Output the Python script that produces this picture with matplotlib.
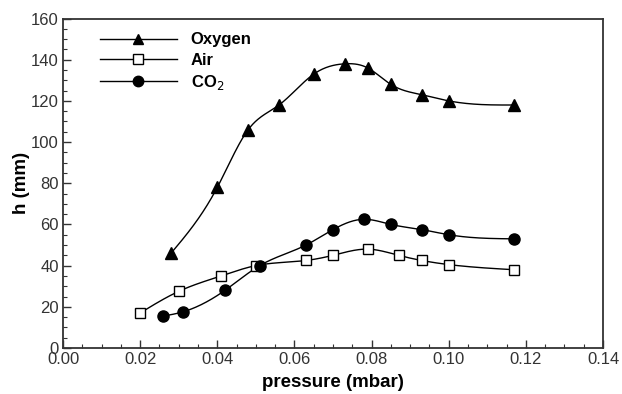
"""
h vs pressure for three gases (Oxygen, Air, CO2)
"""

import matplotlib
matplotlib.use("Agg")
import matplotlib.pyplot as plt
from matplotlib.ticker import MultipleLocator, FormatStrFormatter
import numpy as np

plt.rcParams['font.family'] = ['Liberation Sans', 'DejaVu Sans']

# data
p_oxygen = [0.028, 0.040, 0.048, 0.056, 0.065, 0.073, 0.079, 0.085, 0.093, 0.100, 0.117]
h_oxygen = [46, 78, 106, 118, 133, 138, 136, 128, 123, 120, 118]

p_air = [0.020, 0.030, 0.041, 0.050, 0.063, 0.070, 0.079, 0.087, 0.093, 0.100, 0.117]
h_air = [17, 27.5, 35, 40, 42.5, 45, 48, 45, 42.5, 40.5, 38]

p_co2 = [0.026, 0.031, 0.042, 0.051, 0.063, 0.070, 0.078, 0.085, 0.093, 0.100, 0.117]
h_co2 = [15.5, 17.5, 28, 40, 50, 57.5, 62.5, 60, 57.5, 55, 53]


def natural_spline(x, y, n=400):
    """smooth line through the points (natural cubic spline)"""
    x = np.asarray(x, float)
    y = np.asarray(y, float)
    k = len(x)
    h = np.diff(x)
    A = np.zeros((k, k))
    r = np.zeros(k)
    A[0, 0] = A[-1, -1] = 1
    for i in range(1, k - 1):
        A[i, i - 1] = h[i - 1]
        A[i, i] = 2 * (h[i - 1] + h[i])
        A[i, i + 1] = h[i]
        r[i] = 6 * ((y[i + 1] - y[i]) / h[i] - (y[i] - y[i - 1]) / h[i - 1])
    M = np.linalg.solve(A, r)
    xs = np.linspace(x[0], x[-1], n)
    idx = np.clip(np.searchsorted(x, xs) - 1, 0, k - 2)
    x0, x1 = x[idx], x[idx + 1]
    hi = x1 - x0
    a = (x1 - xs) / hi
    b = (xs - x0) / hi
    ys = a * y[idx] + b * y[idx + 1] + ((a**3 - a) * M[idx] + (b**3 - b) * M[idx + 1]) * hi**2 / 6
    return xs, ys


fig = plt.figure(figsize=(6.22, 3.94), dpi=100)
ax = fig.add_axes([0.1013, 0.1168, 0.8682, 0.8362])

series = [
    (p_oxygen, h_oxygen, '^', 'black', 8.5, 7.5, 'Oxygen'),
    (p_air, h_air, 's', 'white', 7.5, 7.0, 'Air'),
    (p_co2, h_co2, 'o', 'black', 8.0, 7.5, 'CO$_2$'),
]
for px, hy, mk, fc, ms, ms_leg, lab in series:
    xs, ys = natural_spline(px, hy)
    ax.plot(xs, ys, '-', color='black', lw=1.0, zorder=2)
    ax.plot(px, hy, linestyle='none', marker=mk, markersize=ms,
            markerfacecolor=fc, markeredgecolor='black', markeredgewidth=1.0, zorder=3)
    # legend proxy: line with marker in the middle
    ax.plot([], [], '-', color='black', lw=1.0, marker=mk, markersize=ms_leg,
            markerfacecolor=fc, markeredgecolor='black', markeredgewidth=1.0, label=lab)

ax.set_xlim(0, 0.14)
ax.set_ylim(0, 160)
ax.xaxis.set_major_locator(MultipleLocator(0.02))
ax.xaxis.set_minor_locator(MultipleLocator(0.005))
ax.yaxis.set_major_locator(MultipleLocator(20))
ax.yaxis.set_minor_locator(MultipleLocator(5))
ax.xaxis.set_major_formatter(FormatStrFormatter('%.2f'))

ax.tick_params(which='both', direction='in', top=False, right=False, labelsize=12,
               colors='#333333', pad=3)
ax.tick_params(which='major', length=6, width=1)
ax.tick_params(which='minor', length=3, width=0.8)
for s in ax.spines.values():
    s.set_linewidth(1.3)
    s.set_color('#333333')

ax.set_xlabel('pressure (mbar)', fontsize=13.5, fontweight='bold', labelpad=5)
ax.set_ylabel('h (mm)', fontsize=13.5, fontweight='bold', labelpad=1)

leg = ax.legend(loc='upper left', bbox_to_anchor=(0.0685, 0.958), frameon=False,
                borderpad=0, borderaxespad=0,
                handlelength=4.6, handletextpad=0.85, labelspacing=0.32,
                prop={'size': 12, 'weight': 'bold'}, markerfirst=True)

fig.savefig('out.png', dpi=100, facecolor='white')
